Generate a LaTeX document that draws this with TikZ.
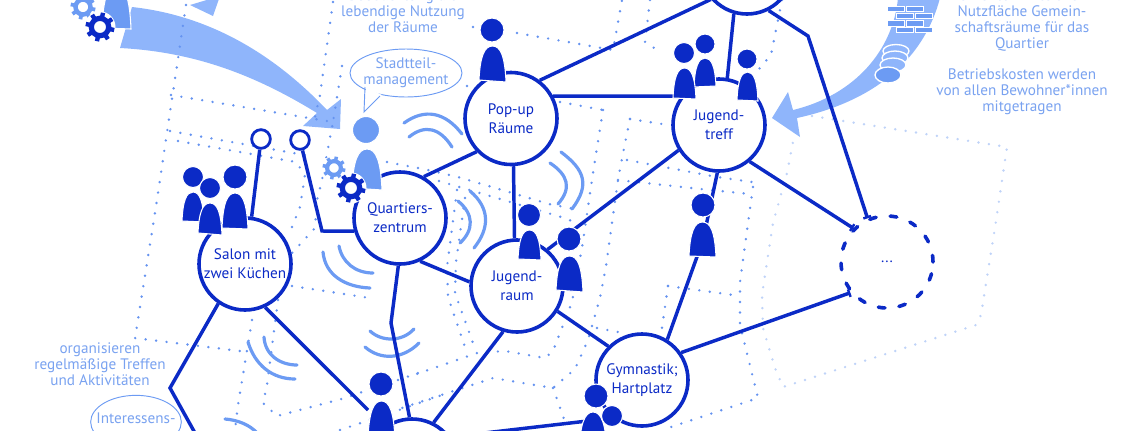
\documentclass[tikz,border=0pt]{standalone}
\usepackage{fontspec}
\setmainfont{PT Sans}
\usetikzlibrary{arrows.meta,shapes.geometric}
\definecolor{dkb}{HTML}{0B2AC6}
\definecolor{lbl}{HTML}{79A2F0}
\definecolor{arr}{HTML}{8FB5FB}
\definecolor{mdb}{HTML}{6C9BF3}
\definecolor{dotc}{HTML}{6593F0}
\definecolor{pale}{HTML}{BFD3F8}
\tikzset{
 place/.style={circle,draw=dkb,fill=white,line width=2.7pt,minimum size=69pt,inner sep=0pt,align=center,text=dkb,font=\fontsize{11.4}{14}\selectfont},
 link/.style={draw=dkb,line width=2.6pt,line join=miter},
 endbar/.style={-{Bar[width=6pt,length=0pt,line width=1.8pt]}},
 lolli/.style={circle,draw=dkb,fill=white,line width=2.1pt,minimum size=14pt,inner sep=0pt},
 dots/.style={draw=dotc,line width=2pt,line cap=round,dash pattern=on 0pt off 7.9pt},
 palec/.style={dots,draw=pale},
 wave/.style={draw=mdb,line width=2.4pt,line cap=round},
 note/.style={text=lbl,align=center,inner sep=0pt,font=\fontsize{11.4}{12}\selectfont},
 bubble/.style={ellipse,draw=mdb,fill=white,line width=.7pt,inner sep=0pt},
 brick/.style={fill=mdb,draw=white,line width=.2pt},
 coin/.style={fill=arr,draw=white,line width=1pt},
}
% hx hy hr l r top baseL baseR colour
\newcommand\persfig[9]{%
 \pgfmathsetmacro\pw{#5-#4}\pgfmathsetmacro\ph{#7-#6}%
 \pgfmathsetmacro\pa{#4+.04*\pw}\pgfmathsetmacro\pb{#4+.2*\pw}%
 \pgfmathsetmacro\pc{#5-.2*\pw}\pgfmathsetmacro\pd{#5-.04*\pw}%
 \pgfmathsetmacro\pm{(#4+#5)/2}\pgfmathsetmacro\pe{#6+.3*\ph}%
 \path[fill=#9,draw=white,line width=.8pt] (#4,#7) .. controls (\pa,\pe) and (\pb,#6) .. (\pm,#6) .. controls (\pc,#6) and (\pd,\pe) .. (#5,#8) -- cycle;
 \path[fill=#9,draw=white,line width=.8pt] (#1,#2) circle [radius=#3];
}
\newcommand\gearfig[4]{%
 \pgfmathsetlengthmacro\gw{#3*.75pt*.36}\pgfmathsetlengthmacro\tw{#3*.75pt*.3}%
 \fill[white] (#1,#2) circle [radius={#3+1}];
 \foreach \a in {0,45,...,315}{\draw[#4,line width=\tw] ({#1+.6*#3*cos(\a+12)},{#2+.6*#3*sin(\a+12)}) -- ({#1+#3*cos(\a+12)},{#2+#3*sin(\a+12)});}
 \draw[#4,line width=\gw] (#1,#2) circle [radius={.6*#3}];
}
\begin{document}
\begin{tikzpicture}[x=.75pt,y=-.75pt]
\useasboundingbox (0,0) rectangle (1121,430);
\begin{scope}
\clip (0,0) rectangle (1121,430);
% ---- arrows
\fill[arr] (132,7) .. controls (205,15) and (270,50) .. (327,110) -- (341,99) -- (340,129) -- (303,126) -- (317,113) .. controls (255,75) and (195,52) .. (120,48) -- cycle;
\fill[arr] (190,5) -- (220,-4) -- (213,16) -- cycle;
\fill[arr] (940,-2) .. controls (925,55) and (880,100) .. (797,118) -- (800,137) -- (772,118) -- (788,92) -- (793,110) .. controls (855,95) and (893,50) .. (898,-2) -- cycle;
% ---- dotted paths
\draw[dots] (186,5) -- (155,213) -- (135,338) -- (240,351);
\draw[dots] (171,95) -- (333,122) -- (322,180) -- (317,200) -- (315,228) -- (292,253);
\draw[dots] (342,66) -- (333,122);
\draw[dots] (333,2) -- (320,95) -- (315,117);
\draw[dots] (170,131) -- (310,156);
\draw[dots] (178,141) -- (296,162) -- (305,175) -- (300,207) -- (290,232);
\draw[dots] (292,286) -- (370,298);
\draw[dots] (278,300) -- (267,385) -- (263,403) -- (277,416) -- (345,398) -- (368,390);
\draw[dots] (252,320) -- (238,405) -- (235,430);
\draw[dots] (340,430) -- (402,409) -- (442,395);
\draw[dots] (398,380) -- (418,373);
\draw[dots] (603,110) -- (593,173) -- (582,248) -- (572,302) -- (553,351) -- (545,358) -- (505,351) -- (477,353) -- (408,377);
\draw[dots] (630,119) -- (623,153) -- (618,180) -- (606,266) -- (600,298) -- (588,340) -- (575,369) -- (553,388) -- (535,385) -- (493,378) -- (472,385) -- (432,398) -- (402,408);
\draw[dots] (553,388) -- (564,419);
\draw[dots] (627,160) -- (717,177) -- (752,182);
\draw[dots] (618,180) -- (710,190) -- (750,194);
\draw[dots] (387,162) -- (428,170) -- (458,177) -- (509,192) -- (549,204) -- (580,210);
\draw[dots] (439,181) -- (517,204) -- (568,219) -- (583,229);
\draw[dots] (457,190) -- (447,267) -- (448,297) -- (465,347);
\draw[dots] (465,198) -- (456,262) -- (455,293) -- (473,343);
\draw[dots] (517,33) -- (613,50) -- (622,0);
\draw[dots] (473,27) -- (473.1,27);
\draw[dots] (467,86) -- (467.1,86);
\draw[dots] (650,0) -- (645,42) -- (662,53);
\draw[dots] (782,0) -- (771,55) -- (759,69);
\draw[dots] (560,102) -- (603,110);
\draw[dots] (630,119) -- (662,124);
\draw[dots] (753,187) -- (740,282) -- (740,325) -- (758,398) -- (668,428);
\draw[dots] (668,286) -- (733,295);
\draw[dots] (668,286) -- (662,328);
\draw[dots] (597,328) -- (618,332);
\draw[palec] (812,116) -- (1007,147) -- (996,221) -- (981,315) -- (976,325) -- (783,387) -- (775,368) -- (763,328) -- (762,295) -- (773,223) -- (787,173) -- (793,142);
% ---- signal arcs
\draw[wave] (404,123) .. controls (425,108) and (445,112) .. (462,134);
\draw[wave] (409,137) .. controls (425,124) and (440,128) .. (452,147);
\draw[wave] (561,152) .. controls (585,170) and (590,185) .. (572,209);
\draw[wave] (550,163) .. controls (568,175) and (572,188) .. (558,204);
\draw[wave] (470,191) .. controls (490,208) and (490,228) .. (474,248);
\draw[wave] (458,201) .. controls (474,214) and (474,230) .. (460,243);
\draw[wave] (323,252) .. controls (325,275) and (345,287) .. (370,288);
\draw[wave] (339,246) .. controls (342,262) and (355,273) .. (373,273);
\draw[wave] (370,331) .. controls (382,342) and (402,342) .. (414,329);
\draw[wave] (365,347) .. controls (380,360) and (402,360) .. (419,343);
\draw[wave] (264,337) .. controls (265,355) and (280,365) .. (297,365);
\draw[wave] (248,342) .. controls (255,365) and (272,379) .. (295,379);
\draw[wave] (225,419) .. controls (238,420) and (250,425) .. (257,433);
% ---- named places
\node[place] (salon) at (245,264) {Salon mit\\zwei Küchen};
\node[place] (quartier) at (400,218) {Quartiers-\\zentrum};
\node[place] (popup) at (511,118.5) {Pop-up\\Räume};
\node[place] (jraum) at (517,286) {Jugend-\\raum};
\node[place] (gym) at (642,380) {Gymnastik;\\Hartplatz};
\node[place] (jtreff) at (719,125) {Jugend-\\treff};
\node[place] (bottom) at (412,465) {};
\node[place] (top) at (747,-32) {};
\node[place,dash pattern=on 5pt off 10.6pt,line cap=round,fill=none] (more) at (887,262) {...};
\node[lolli] (l1) at (261,139) {};
\node[lolli] (l2) at (300,140) {};
\coordinate (bendA) at (322,231);
\coordinate (bendB) at (170,388);
\coordinate (exitB) at (200,442);
\coordinate (bendC) at (391,323);
\coordinate (bendD) at (703,240);
\coordinate (bendE) at (808,36);
\coordinate (bendF) at (596,420);
\coordinate (personS) at (368,410);
% ---- connectors
\draw[link] (salon.82) -- (l1);
\draw[link] (l2) -- (bendA) -- (quartier.196);
\draw[link] (salon.236) -- (bendB) -- (exitB);
\draw[link] (salon.-65) -- (personS);
\draw[link] (quartier.60) -- (popup.224);
\draw[link] (quartier.-65) -- (jraum.175);
\draw[link] (quartier.-92) -- (bendC) -- (bottom.93);
\draw[link] (popup.-87) -- (jraum.93);
\draw[link] (popup.53) -- (top.221);
\draw[link] (popup.28) -- (jtreff.143);
\draw[link] (jraum.50) -- (jtreff.-148);
\draw[link] (jraum.-32) -- (gym.135);
\draw[link] (jraum.-107) -- (bottom.63);
\draw[link] (jtreff.-92) -- (bendD) -- (gym.58);
\draw[link,endbar] (gym.35) -- (more.220);
\draw[link,endbar] (jtreff.-50) -- (more.135);
\draw[link,endbar] (top.-63) -- (bendE) -- (more.114);
\draw[link] (top.-106) -- (jtreff.80);
\draw[link] (bottom.36) -- (bendF);
% ---- people
\persfig{366}{130}{13.5}{352}{382}{149}{188}{190}{mdb}
\persfig{492}{30}{12}{479}{506}{46}{80}{82}{dkb}
\persfig{193}{177}{10.5}{182}{204}{192}{221}{222}{dkb}
\persfig{235}{177}{12}{222}{248}{193}{228}{229}{dkb}
\persfig{210}{188}{10.5}{198}{222}{203}{233}{235}{dkb}
\persfig{529}{215}{11.5}{518}{541}{230}{259}{260}{dkb}
\persfig{569}{239}{12}{556}{583}{256}{290}{292}{dkb}
\persfig{705}{44}{10}{694}{716}{58}{87}{86}{dkb}
\persfig{684}{53}{10.5}{673}{696}{68}{98}{99}{dkb}
\persfig{747}{59}{10}{737}{758}{72}{100}{101}{dkb}
\persfig{703}{205}{12}{689}{716}{222}{256}{257}{dkb}
\persfig{381}{384}{12}{368}{395}{401}{438}{440}{dkb}
\persfig{596}{396}{12}{579}{607}{412}{452}{452}{dkb}
\persfig{612}{416}{10.5}{598}{626}{434}{460}{460}{dkb}
\persfig{116}{-22}{13}{102}{131}{-14}{28}{29}{mdb}
\gearfig{83}{7}{12.5}{mdb}
\gearfig{100}{27}{14.5}{dkb}
\gearfig{334}{168}{11.5}{mdb}
\gearfig{351}{188}{14.5}{dkb}
% ---- wall and coins
\foreach \xa/\ya in {886.7/5.7,905.7/5.7,896/12.7,915/12.7,886.7/20,905.7/20,896/26.7,915/26.7}{
  \path[brick] (\xa,\ya) rectangle ++(17,5.7);
}
\path[coin] (896,51) ellipse [x radius=13,y radius=6.5];
\path[coin] (895,58) ellipse [x radius=13,y radius=7];
\path[coin] (893,65) ellipse [x radius=13,y radius=7];
\path[coin,fill=mdb] (888,75) ellipse [x radius=13,y radius=8];
% ---- bubbles and notes
\node[bubble,minimum width=84pt,minimum height=36pt] (stadt) at (406,73) {};
\fill[white] (366,87) -- (364,112) -- (382,95) -- cycle;
\coordinate (tailA) at (365,87);
\coordinate (tailB) at (364,112);
\coordinate (tailC) at (380,96);
\draw[draw=mdb,line width=.7pt] (tailA) -- (tailB) -- (tailC);
\node[note] (stadtlab) at (406,73) {Stadtteil-\\management};
\node[bubble,minimum width=68pt,minimum height=40pt] (inter) at (136,422) {};
\node[note] (interlab) at (136,418) {Interessens-};
\node[note] (n1) at (403,11) {Beobachtung die\\lebendige Nutzung\\der Räume};
\node[note] (n2) at (100,364) {organisieren\\regelmäßige Treffen\\und Aktivitäten};
\node[note] (n3) at (1022,20) {erhöhten Anteil zur\\Nutzfläche Gemein-\\schaftsräume für das\\Quartier};
\node[note] (n4) at (1022,92) {Betriebskosten werden\\von allen Bewohner*innen\\mitgetragen};
\end{scope}
\end{tikzpicture}
\end{document}
